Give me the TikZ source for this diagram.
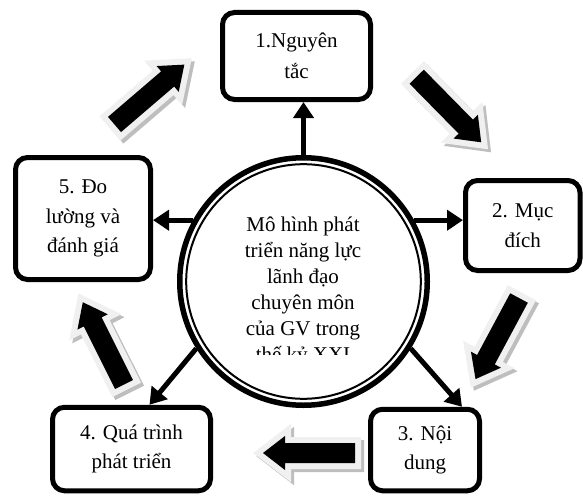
\documentclass[tikz,border=0pt]{standalone}
\usepackage{fontspec}
\setmainfont{Liberation Serif}
\usepackage{tikz}
\usetikzlibrary{arrows.meta}
\definecolor{rimgray}{RGB}{240,240,240}
\definecolor{shadegray}{RGB}{190,190,190}

\begin{document}
\begin{tikzpicture}[x=1pt, y=-1pt,
    box/.style={draw, line width=5pt, rounded corners=12pt, align=center,
      font={\fontsize{21}{29.5}\selectfont}, inner sep=0pt},
    conn/.style={line width=5pt, -{Triangle[length=16pt,width=20pt]}}]
        \useasboundingbox (0,0) rectangle (583,495);

        % Khung ngoai
        \node[box, minimum width=148pt, minimum height=87pt, font={\fontsize{21}{31}\selectfont}] (b1) at (296.5,56) {1.Nguyên\\tắc};
        \node[box, minimum width=114.5pt, minimum height=90pt] (b2) at (522.75,225.5) {2. Mục\\đích};
        \node[box, minimum width=109pt, minimum height=81.5pt] (b3) at (425,450) {3. Nội\\dung};
        \node[box, minimum width=158pt, minimum height=83.5pt] (b4) at (131.5,449) {4. Quá trình\\phát triển};
        \node[box, minimum width=135pt, minimum height=122pt] (b5) at (83,218.5) {5. Đo\\lường và\\đánh giá};

        % Vong tron giua
        \node[circle, draw, line width=5.5pt, minimum size=247.5pt] (centre) at (303.5,281.5) {};
        \draw[line width=2pt] (centre.center) circle[radius=117.3];
        \begin{scope}
            \clip (0,0) rectangle (583,354);
            \node[align=center, anchor=base, font={\fontsize{21}{26}\selectfont}] (title) at (303,361)
                {Mô hình phát\\triển năng lực\\lãnh đạo\\chuyên môn\\của GV trong\\thế kỷ XXI};
        \end{scope}

        % Mui ten noi
        \draw[conn] (centre.north) -- (centre.north |- b1.south);
        \draw[conn] (centre.29) -- (centre.29 -| b2.west);
        \draw[conn] (centre.328) -- ([xshift=37pt]b3.north);
        \draw[conn] (centre.212) -- ([xshift=18pt]b4.north);
        \draw[conn] (centre.151) -- (centre.151 -| b5.east);

        % Mui ten khoi (vong)
        \foreach \tx/\ty/\ang in {114.5/124.5/40.6, 416.7/76.7/-45.5, 519/298/-118.2, 355/453/180, 124/384.5/116.6} {
            \fill[shadegray, draw=shadegray, line width=12pt, line join=miter, shift={(\tx+3,\ty+3)}, rotate=\ang]
                (0,-10) -- (70,-10) -- (70,-17) -- (92,0) -- (70,17) -- (70,10) -- (0,10) -- cycle;
            \fill[rimgray, draw=rimgray, line width=12pt, line join=miter, shift={(\tx,\ty)}, rotate=\ang]
                (0,-10) -- (70,-10) -- (70,-17) -- (92,0) -- (70,17) -- (70,10) -- (0,10) -- cycle;
            \fill[black, shift={(\tx,\ty)}, rotate=\ang]
                (0,-10) -- (70,-10) -- (70,-17) -- (92,0) -- (70,17) -- (70,10) -- (0,10) -- cycle;
        }
    \end{tikzpicture}
\end{document}
